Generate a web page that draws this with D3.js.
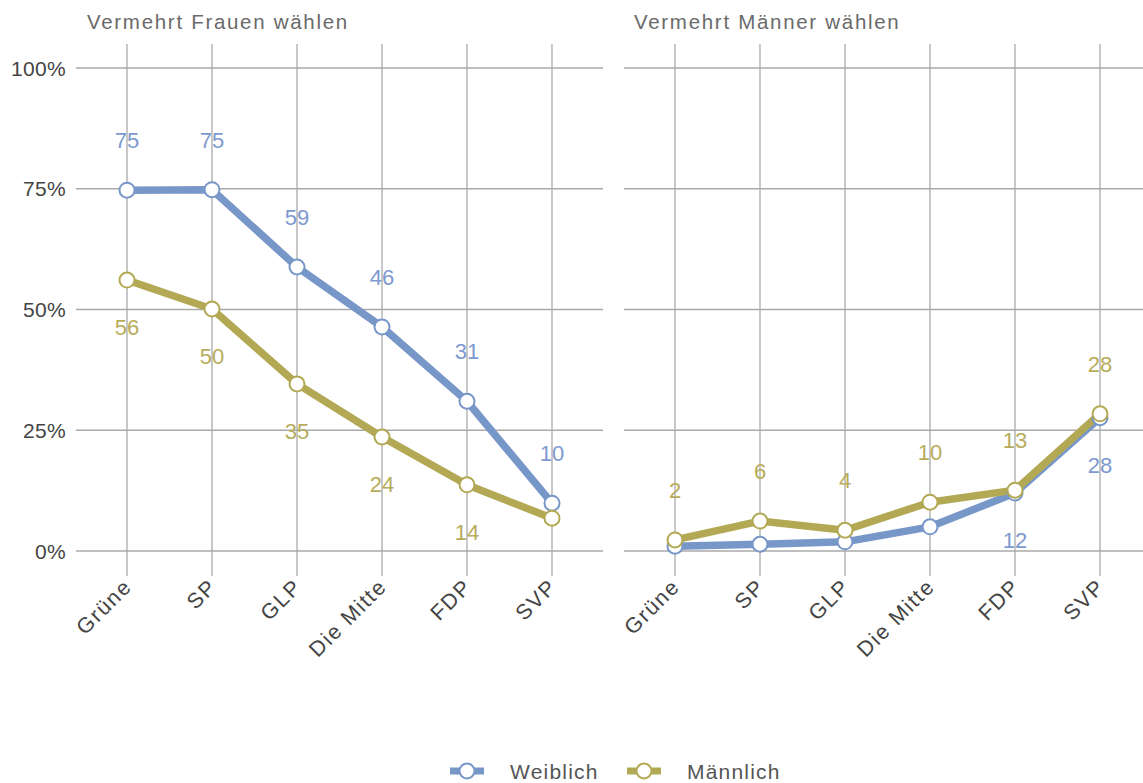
<!DOCTYPE html>
<html><head><meta charset="utf-8">
<script src="https://cdn.jsdelivr.net/npm/d3@7"></script>
<style>
body{margin:0;background:#fff;}
svg{display:block;font-family:"Liberation Sans",Arial,sans-serif;}
</style></head><body>
<svg id="c" width="1143" height="783"></svg>
<script>
const parties = ["Grüne","SP","GLP","Die Mitte","FDP","SVP"];
const yTicks = [0,25,50,75,100];
const panelTitles = ["Vermehrt Frauen wählen","Vermehrt Männer wählen"];
const seriesNames = ["Weiblich","Männlich"];
// Left panel: "Vermehrt Frauen wählen"
const leftWeiblich = [74.7,74.8,58.8,46.4,31.0,9.9];
const leftMaennlich = [56.1,50.1,34.6,23.6,13.7,6.8];
const leftWeiblichLabels = ["75","75","59","46","31","10"];
const leftMaennlichLabels = ["56","50","35","24","14",null];
// Right panel: "Vermehrt Männer wählen"
const rightWeiblich = [1.0,1.4,1.9,5.0,12.0,27.6];
const rightMaennlich = [2.3,6.2,4.3,10.1,12.6,28.4];
const rightWeiblichLabels = [null,null,null,null,"12","28"];
const rightMaennlichLabels = ["2","6","4","10","13","28"];

const colW = "#7897c9", colM = "#b3a955";
const labW = "#7d9ad0", labM = "#b7ac5a";
const grid = "#aaaaaa";

const svg = d3.select("#c");
const y = d3.scaleLinear().domain([0,100]).range([551,68]);

const panels = [
  {title:panelTitles[0], range:[76,603], titleX:87, w:leftWeiblich, m:leftMaennlich, wl:leftWeiblichLabels, ml:leftMaennlichLabels, wAbove:true},
  {title:panelTitles[1], range:[624,1151], titleX:634, w:rightWeiblich, m:rightMaennlich, wl:rightWeiblichLabels, ml:rightMaennlichLabels, wAbove:false}
];

// y tick labels
svg.append("g").selectAll("text").data(yTicks).join("text")
  .attr("x",66).attr("y",d=>y(d)+7.5).attr("text-anchor","end")
  .attr("font-size",21).attr("fill","#444").attr("letter-spacing",0.3)
  .text(d=>d+"%");

panels.forEach(p=>{
  const x = d3.scalePoint().domain(parties).range(p.range).padding(0.6);
  const g = svg.append("g");
  g.append("text").attr("x",p.titleX).attr("y",29).attr("font-size",20.5)
    .attr("fill","#6a6a6a").attr("letter-spacing",1.7).text(p.title);
  // horizontal gridlines
  g.selectAll("line.h").data(yTicks).join("line").attr("class","h")
    .attr("x1",p.range[0]).attr("x2",p.range[1]).attr("y1",d=>y(d)).attr("y2",d=>y(d))
    .attr("stroke",grid).attr("stroke-width",1.3);
  // vertical gridlines
  g.selectAll("line.v").data(parties).join("line").attr("class","v")
    .attr("x1",d=>x(d)).attr("x2",d=>x(d)).attr("y1",44).attr("y2",576)
    .attr("stroke",grid).attr("stroke-width",1.3);
  // x labels
  g.selectAll("text.xl").data(parties).join("text").attr("class","xl")
    .attr("transform",d=>`translate(${x(d)+6},${588}) rotate(-45)`)
    .attr("text-anchor","end").attr("font-size",21.5).attr("fill","#444")
    .attr("letter-spacing",1.6).text(d=>d);

  const line = d3.line().x((d,i)=>x(parties[i])).y(d=>y(d));
  const series = [
    {vals:p.w, labs:p.wl, col:colW, lc:labW, above:p.wAbove},
    {vals:p.m, labs:p.ml, col:colM, lc:labM, above:!p.wAbove}
  ];
  series.forEach(s=>{
    g.append("path").datum(s.vals).attr("d",line).attr("fill","none")
      .attr("stroke",s.col).attr("stroke-width",7.5).attr("stroke-linejoin","round");
  });
  series.forEach(s=>{
    g.selectAll(null).data(s.vals).join("circle")
      .attr("cx",(d,i)=>x(parties[i])).attr("cy",d=>y(d)).attr("r",7.5)
      .attr("fill","#fff").attr("stroke",s.col).attr("stroke-width",2);
  });
  series.forEach(s=>{
    g.selectAll(null).data(s.vals.map((v,i)=>({v,i,l:s.labs[i]})).filter(d=>d.l!==null)).join("text")
      .attr("x",d=>x(parties[d.i])).attr("y",d=>y(d.v)+(s.above?-42:55))
      .attr("text-anchor","middle").attr("font-size",22).attr("fill",s.lc)
      .text(d=>d.l);
  });
});

// legend
const leg = svg.append("g");
const legItems = [{name:seriesNames[0], col:colW, x:450},{name:seriesNames[1], col:colM, x:627}];
legItems.forEach(it=>{
  leg.append("line").attr("x1",it.x).attr("x2",it.x+34).attr("y1",771).attr("y2",771)
    .attr("stroke",it.col).attr("stroke-width",7);
  leg.append("circle").attr("cx",it.x+17).attr("cy",771).attr("r",7.5)
    .attr("fill","#fff").attr("stroke",it.col).attr("stroke-width",2);
  leg.append("text").attr("x",it.x+60).attr("y",779).attr("font-size",21)
    .attr("fill","#555").attr("letter-spacing",1.2).text(it.name);
});
</script></body></html>
